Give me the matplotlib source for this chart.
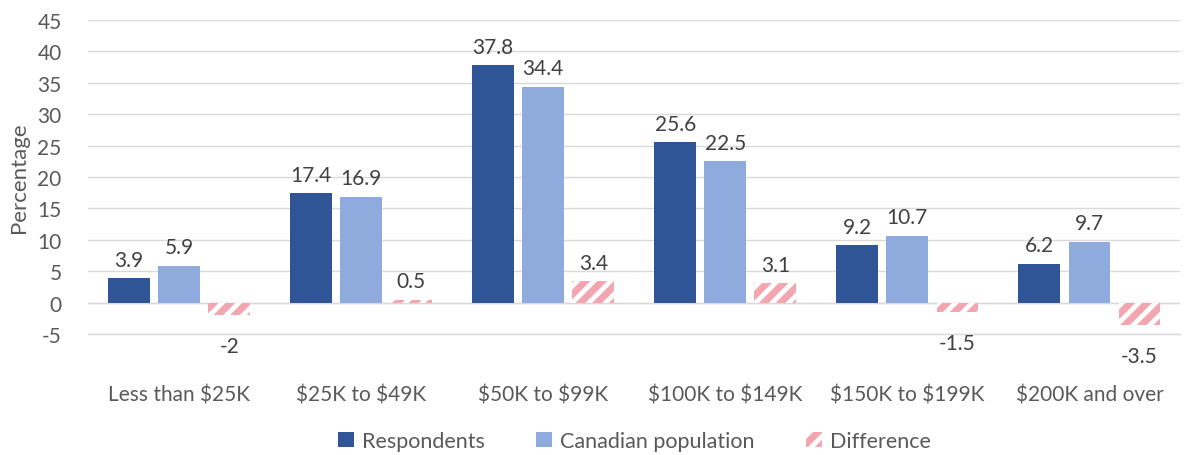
import matplotlib.pyplot as plt
import numpy as np

plt.rcParams['font.family'] = ['Lato', 'DejaVu Sans']
plt.rcParams['text.parse_math'] = False
plt.rcParams['axes.unicode_minus'] = False
plt.rcParams['hatch.linewidth'] = 5

# income brackets
categories = ["Less than $25K", "$25K to $49K", "$50K to $99K",
              "$100K to $149K", "$150K to $199K", "$200K and over"]
respondents = [3.9, 17.4, 37.8, 25.6, 9.2, 6.2]
population = [5.9, 16.9, 34.4, 22.5, 10.7, 9.7]
difference = [-2, 0.5, 3.4, 3.1, -1.5, -3.5]

text_col = '#595959'
x = np.arange(len(categories))
w = 0.23
step = 0.275

fig = plt.figure(figsize=(11.9, 4.56), dpi=100)
ax = fig.add_axes([0.074, 0.265, 0.918, 0.689])

b1 = ax.bar(x - step, respondents, w, color='#2F5597', label='Respondents', zorder=3)
b2 = ax.bar(x, population, w, color='#8FAADC', label='Canadian population', zorder=3)
b3 = ax.bar(x + step, difference, w, color='white', edgecolor='#F4A6B0',
            hatch='//', linewidth=0, label='Difference', zorder=3)

for bars in (b1, b2, b3):
    for b in bars:
        v = b.get_height()
        lab = f"{v:g}"
        cx = b.get_x() + b.get_width() / 2
        if v >= 0:
            ax.annotate(lab, (cx, v), xytext=(0, 6), textcoords='offset points',
                        ha='center', va='bottom', fontsize=15, color='#404040')
        else:
            # negative labels sit a bit further below the bar
            ax.annotate(lab, (cx, v), xytext=(0, -15), textcoords='offset points',
                        ha='center', va='top', fontsize=15, color='#404040')

ax.set_ylim(-5, 45)
ax.set_yticks(range(-5, 50, 5))
ax.set_xlim(-0.5, len(categories) - 0.5)
ax.set_xticks(x)
ax.set_xticklabels(categories)
ax.tick_params(axis='x', length=0, pad=36, labelsize=15, colors=text_col)
ax.tick_params(axis='y', length=0, pad=19, labelsize=15, colors=text_col)
ax.grid(axis='y', color='#D9D9D9', linewidth=1, zorder=0)
ax.axhline(-5, color='#D9D9D9', linewidth=1, zorder=0, clip_on=False)
ax.axhline(0, color='#D9D9D9', linewidth=1, zorder=1)
for s in ax.spines.values():
    s.set_visible(False)
ax.set_ylabel('Percentage', fontsize=16, color=text_col, labelpad=6)

ax.legend(loc='center', bbox_to_anchor=(0.5, -0.34), ncol=3, frameon=False,
          fontsize=15.5, labelcolor=text_col, handlelength=0.75, handleheight=0.75,
          columnspacing=2.4, handletextpad=0.35)

fig.savefig('out.png', dpi=100)
